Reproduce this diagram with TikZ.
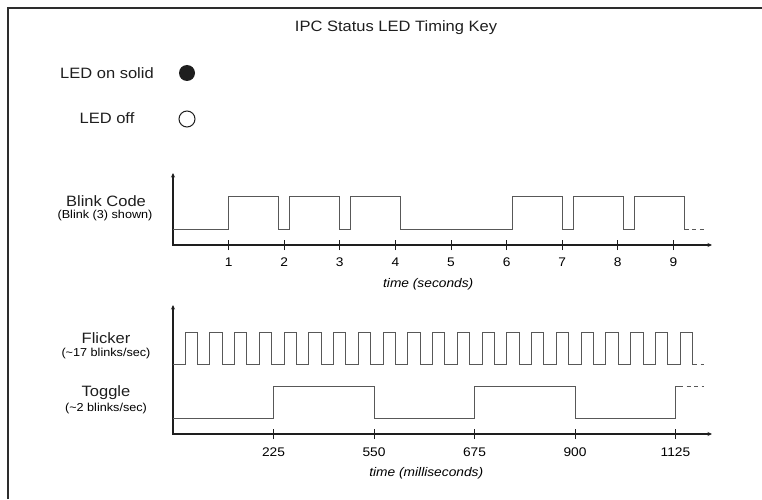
\documentclass[tikz,border=0pt]{standalone}
\usepackage{fontspec}
\setmainfont{Liberation Sans}[FakeStretch=1.1]
\usepackage{tikz}
\usetikzlibrary{arrows.meta}
\definecolor{frameGray}{RGB}{45, 45, 45}
\definecolor{waveGray}{RGB}{88, 88, 88}
\definecolor{inkDark}{RGB}{30, 30, 30}

\begin{document}
\begin{tikzpicture}[
    x=1pt, y=1pt,
    font=\fontsize{15}{18}\selectfont\color{inkDark},
    lbl/.style={inner sep=0pt, anchor=base},
    sublbl/.style={font=\fontsize{11.5}{13}\selectfont, inner sep=0pt, anchor=base},
    ticklbl/.style={font=\fontsize{12.5}{14}\selectfont, inner sep=0pt, anchor=base},
    unitlbl/.style={font=\fontsize{12.5}{14}\selectfont\itshape, inner sep=0pt, anchor=base},
    timeaxis/.style={line width=1.1pt, inkDark,
        {Stealth[length=4.5pt, width=4pt]}-{Stealth[length=4.5pt, width=4pt]}},
    tickmark/.style={line width=1pt, inkDark},
    wave/.style={line width=1pt, waveGray},
    tail/.style={wave, dash pattern=on 4pt off 3.5pt, dash phase=4pt},
    dot/.style={circle, minimum size=16pt, inner sep=0pt, line width=1pt}
]
\useasboundingbox (0,0) rectangle (762,499);
\draw[line width=2pt, frameGray] (8,0) -- (8,491) -- (762,491);

\node[lbl] (title)   at (396,467.3) {IPC Status LED Timing Key};
\node[lbl] (onLbl)   at (107,420.7) {LED on solid};
\node[dot, fill=inkDark] (onDot) at (187,426) {};
\node[lbl] (offLbl)  at (107,375) {LED off};
\node[dot, draw=inkDark] (offDot) at (187,380) {};

\node[lbl]    (blinkLbl)  at (106,292.3) {Blink Code};
\node[sublbl] (blinkSub)  at (105,280.7) {(Blink (3) shown)};
\node[lbl]    (flickLbl)  at (106,155.7) {Flicker};
\node[sublbl] (flickSub)  at (106,142.3) {(\textasciitilde 17 blinks/sec)};
\node[lbl]    (toggleLbl) at (106,102.3) {Toggle};
\node[sublbl] (toggleSub) at (106,88)    {(\textasciitilde 2 blinks/sec)};

\begin{scope}[xshift=173pt, yshift=254pt, x=55.6pt]
\draw[timeaxis] (0,72) -- (0,0) -- (9.694,0);
\foreach \s in {1,...,9} {
    \draw[tickmark] (\s,-5) -- (\s,5);
    \node[ticklbl] (sec\s) at (\s,-21.7) {\s};
}
\node[unitlbl] (secLbl) at (4.59,-42) {time (seconds)};
\draw[wave] (0,16) \foreach \s in {1,2.1,3.2,6.1,7.2,8.3} {
    -- (\s,16) -- (\s,49) -- ({\s+0.9},49) -- ({\s+0.9},16) } -- (9.28,16);
\draw[tail] (9.28,16) -- (9.55,16);
\end{scope}

\begin{scope}[xshift=173pt, yshift=65pt, x=100.5pt]
\draw[timeaxis] (0,129) -- (0,0) -- (5.363,0);
\foreach \ms [count=\i] in {225,550,675,900,1125} {
    \draw[tickmark] (\i,-5) -- (\i,5);
    \node[ticklbl] (ms\i) at (\i,-22.7) {\ms};
}
\node[unitlbl] (msLbl) at (2.52,-42) {time (milliseconds)};
\draw[wave] (0,70) \foreach \k in {0,...,20} {
    -- ({0.12+0.2463*\k},70) -- ({0.12+0.2463*\k},102)
    -- ({0.243+0.2463*\k},102) -- ({0.243+0.2463*\k},70) } -- (5.214,70);
\draw[tail] (5.214,70) -- (5.279,70);
\draw[wave] (0,16) -- (1,16) -- (1,48) -- (2,48) -- (2,16) -- (3,16) -- (3,48)
    -- (4,48) -- (4,16) -- (5,16) -- (5,48) -- (5.075,48);
\draw[tail] (5.075,48) -- (5.279,48);
\end{scope}
\end{tikzpicture}
\end{document}
